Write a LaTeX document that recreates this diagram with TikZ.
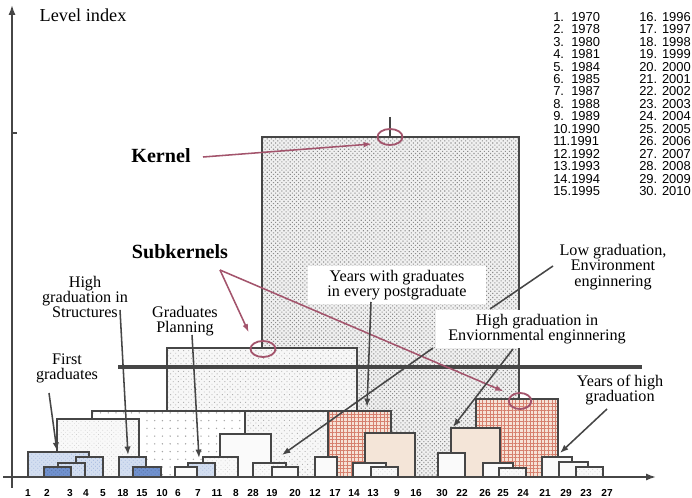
\documentclass[tikz,border=0pt]{standalone}
\usepackage{fontspec}
\setmainfont{Liberation Serif}
\newfontfamily\legfont{Liberation Sans}
\usetikzlibrary{
    arrows.meta,
    calc,
    shapes.geometric,
    patterns.meta
}
\definecolor{edgegray}{RGB}{70, 70, 70}
\definecolor{rosy}{RGB}{163, 84, 108}
\definecolor{pinkbg}{RGB}{246, 226, 214}
\definecolor{pinkln}{RGB}{214, 128, 110}
\definecolor{cream}{RGB}{244, 229, 216}
\definecolor{lblue}{RGB}{211, 222, 240}
\definecolor{dblue}{RGB}{112, 145, 206}
\tikzset{
    blk/.style={draw=edgegray, line width=0.9pt},
    kernfill/.style={preaction={fill=gray!12}, pattern={Dots[distance=2.1pt, radius=0.55pt, angle=45]}, pattern color=gray!90},
    subfill/.style={preaction={fill=gray!6}, pattern={Dots[distance=2.6pt, radius=0.45pt, angle=45]}, pattern color=gray!60},
    sparsefill/.style={preaction={fill=white}, pattern={Dots[distance=5.5pt, radius=0.55pt]}, pattern color=gray!70},
    palefill/.style={preaction={fill=gray!5}, pattern={Dots[distance=2.2pt, radius=0.35pt, angle=45]}, pattern color=gray!40},
    pinkfill/.style={preaction={fill=pinkbg}, pattern={Hatch[distance=2.6pt, line width=0.45pt]}, pattern color=pinkln},
    lbluefill/.style={preaction={fill=lblue}, pattern={Dots[distance=2pt, radius=0.35pt, angle=45]}, pattern color=dblue!70},
    dbluefill/.style={preaction={fill=dblue}, pattern={Dots[distance=2pt, radius=0.35pt, angle=45]}, pattern color=dblue!60!black},
    whitefill/.style={fill=gray!4},
    creamfill/.style={fill=cream},
    lbl/.style={align=center, font=\fontsize{11.5}{10.8}\selectfont, inner sep=1pt},
    lblw/.style={lbl, fill=white, inner xsep=9pt, inner ysep=3pt},
    bigl/.style={font=\fontsize{14.3}{16}\selectfont\bfseries, inner sep=1pt},
    axlbl/.style={font=\legfont\bfseries\fontsize{7.2}{8}\selectfont, inner sep=0pt},
    legtxt/.style={align=left, font=\legfont\fontsize{9.2}{8.85}\selectfont, inner sep=0pt, anchor=north west},
    ring/.style={ellipse, draw=rosy, line width=1.3pt, minimum width=17.8pt, minimum height=11.4pt, inner sep=0pt},
    darr/.style={-{Latex[length=6pt, width=4.5pt]}, line width=1.1pt, edgegray},
    marr/.style={-{Latex[length=6pt, width=4pt]}, line width=1.1pt, rosy},
    axarr/.style={-{Latex[length=7pt, width=5pt]}, line width=1.2pt, edgegray},
}

\begin{document}
\begin{tikzpicture}[x=0.025cm, y=-0.025cm]

    \useasboundingbox (0,0) rectangle (692,498);

    % kernel and subkernels
    \draw [blk, kernfill] (262,137) rectangle (519,477);
    \draw [edgegray, line width=0.9pt] (390,117) -- (390,137);
    \draw [blk, subfill] (167,348) rectangle (357,477);
    \draw [blk, sparsefill] (92,411) rectangle (245,477);
    \draw [blk, subfill] (245,411) rectangle (328,477);
    \draw [blk, pinkfill] (328,411) rectangle (391,477);
    \draw [blk, pinkfill] (476,399) rectangle (558,477);
    \draw [blk, palefill] (57,419) rectangle (139,477);
    \draw [blk, creamfill] (451,428) rectangle (500,477);
    \draw [blk, creamfill] (365,433) rectangle (415,477);
    \draw [blk, whitefill] (220,434) rectangle (271,477);

    % small clusters
    \draw [blk, lbluefill] (28,452) rectangle (89,477);
    \draw [blk, whitefill] (438,453) rectangle (465,477);
    \draw [blk, lbluefill] (76,457) rectangle (103,477);
    \draw [blk, lbluefill] (119,457) rectangle (146,477);
    \draw [blk, palefill] (203,457) rectangle (238,477);
    \draw [blk, whitefill] (315,457) rectangle (337,477);
    \draw [blk, whitefill] (542,457) rectangle (572,477);
    \draw [blk, lbluefill] (58,463) rectangle (85,477);
    \draw [blk, lbluefill] (188,463) rectangle (215,477);
    \draw [blk, palefill] (253,463) rectangle (286,477);
    \draw [blk, whitefill] (353,463) rectangle (386,477);
    \draw [blk, whitefill] (483,463) rectangle (513,477);
    \draw [blk, whitefill] (559,462) rectangle (588,477);
    \draw [blk, dbluefill] (44,467) rectangle (71,477);
    \draw [blk, dbluefill] (133,467) rectangle (161,477);
    \draw [blk, whitefill] (175,467) rectangle (197,477);
    \draw [blk, whitefill] (272,467) rectangle (298,477);
    \draw [blk, palefill] (371,467) rectangle (398,477);
    \draw [blk, palefill] (499,468) rectangle (526,477);
    \draw [blk, palefill] (576,467) rectangle (603,477);

    % cut level
    \draw [edgegray, line width=2.4pt] (118,367) -- (642,367);

    % labels
    \node [lbl, anchor=west] (level) at (38,15) {\fontsize{13}{14}\selectfont Level index};
    \node [bigl] (kernel) at (161,156) {Kernel};
    \node [bigl] (subk) at (180,252) {Subkernels};
    \node [lbl] (struct) at (85,297) {High\\graduation in\\Structures};
    \node [lbl] (firstg) at (67,368) {First\\graduates};
    \node [lbl] (plan) at (185,321) {Graduates\\Planning};
    \node [lblw, inner xsep=14pt] (yearsg) at (397,285) {Years with graduates\\in every postgraduate};
    \node [lblw] (env) at (537,329) {High graduation in\\Enviornmental enginnering};
    \node [lbl] (lowg) at (613,267) {Low graduation,\\Environment\\enginnering};
    \node [lbl] (yhigh) at (620,390) {Years of high\\graduation};

    % legend
    \node [legtxt] (legA) at (553,12) {1.~~1970\\2.~~1978\\3.~~1980\\4.~~1981\\5.~~1984\\6.~~1985\\7.~~1987\\8.~~1988\\9.~~1989\\10.1990\\11.1991\\12.1992\\13.1993\\14.1994\\15.1995};
    \node [legtxt] (legB) at (639,12) {16. 1996\\17. 1997\\18. 1998\\19. 1999\\20. 2000\\21. 2001\\22. 2002\\23. 2003\\24. 2004\\25. 2005\\26. 2006\\27. 2007\\28. 2008\\29. 2009\\30. 2010};

    % rings
    \node [ring] (ckern) at (390,137) {};
    \node [ring] (csub1) at (263,349) {};
    \node [ring, minimum width=16pt] (csub2) at (520,401) {};

    \coordinate (tFirst) at (57,451);
    \coordinate (tStruct) at (128,455);
    \coordinate (tPlan) at (199,458);
    \coordinate (tYears) at (367,407);
    \coordinate (tTwenty) at (282,455);
    \coordinate (tCream) at (453,427);
    \coordinate (tLow) at (490,309);
    \coordinate (tHigh) at (560,453);

    \draw [marr, shorten >=6pt] ($(kernel)+(42,1)$) -- (ckern.south west);
    \draw [marr, shorten >=8pt] ($(subk)+(40,18)$) -- (csub1.north west);
    \draw [marr, shorten >=6pt] ($(subk)+(40,18)$) -- (csub2.north west);

    \draw [darr] ($(firstg)+(-18,25)$) -- (tFirst);
    \draw [darr] ($(struct)+(35,13)$) -- (tStruct);
    \draw [darr] ($(plan)+(7,14)$) -- (tPlan);
    \draw [darr] ($(yearsg)+(-26,17)$) -- (tYears);
    \draw [darr] ($(env)+(-104,19)$) -- (tTwenty);
    \draw [darr] ($(env)+(-24,20)$) -- (tCream);
    \draw [edgegray, line width=1.1pt] ($(lowg)+(-60,-1)$) -- (tLow);
    \draw [darr] ($(yhigh)+(-13,19)$) -- (tHigh);

    % axes
    \draw [axarr] (12,488) -- (12,5);
    \draw [axarr] (3,477) -- (656,477);
    \draw [edgegray, line width=1pt] (12,133) -- (17,133);

    \foreach \k/\xx in {1/28, 2/47, 3/70, 4/86, 5/103, 18/123, 15/142, 10/162, 6/178, 7/198, 11/217, 8/236, 28/253, 19/272, 20/295, 12/315, 17/335, 14/354, 13/373, 9/397, 16/416, 30/442, 22/462, 26/485, 25/503, 24/523, 21/545, 29/566, 23/586, 27/607}
        \node [axlbl] (y\k) at (\xx,493) {\k};

\end{tikzpicture}
\end{document}
